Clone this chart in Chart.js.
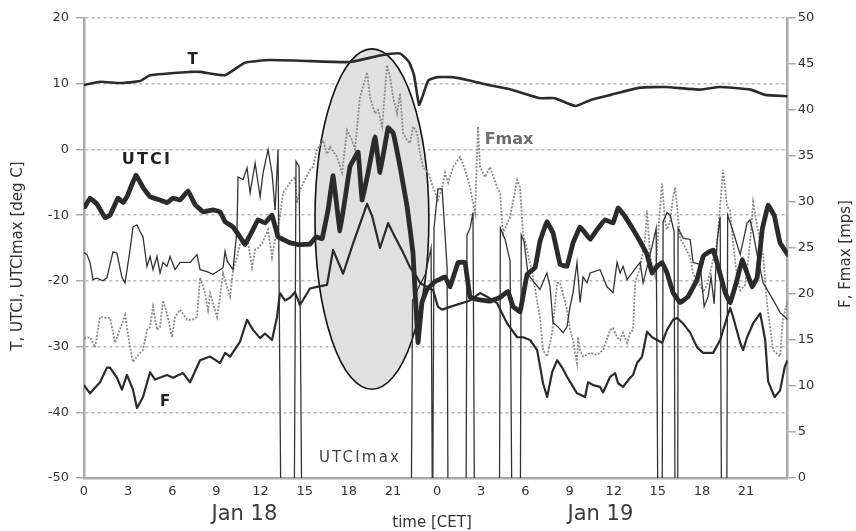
<!DOCTYPE html>
<html>
<head>
<meta charset="utf-8">
<script src="https://cdn.jsdelivr.net/npm/chart.js@4"></script>
<style>
html,body{margin:0;padding:0;background:#fff;}
canvas{display:block;}
</style>
</head>
<body>
<canvas id="c" width="856" height="531"></canvas>
<script>
// ---------- data (hours since Jan 18 00:00 CET) ----------
const xTicks = [0,3,6,9,12,15,18,21,24,27,30,33,36,39,42,45];
const leftTicks = [-50,-40,-30,-20,-10,0,10,20];
const rightTicks = [0,5,10,15,20,25,30,35,40,45,50];

const tHours = [0,1.09,2.45,3.81,4.49,7.21,7.89,9.59,10.94,12.64,14.68,18.08,20.12,21.48,22.09,22.43,22.77,23.0,23.4,24.0,25.0,26.2,27.5,28.9,31.0,32.0,33.4,34.4,35.8,37.8,39.5,41.9,43.2,45.3,46.3,47.83];
const tVals  = [9.8,10.3,10.1,10.4,11.3,11.8,11.8,11.3,13.2,13.6,13.5,13.3,14.3,14.6,13.3,11.3,6.8,8.0,10.5,11.0,11.0,10.5,9.8,9.2,7.8,7.8,6.6,7.5,8.3,9.4,9.5,9.1,9.5,9.1,8.3,8.1];

const utciHours = [0.07,0.41,0.88,1.43,1.77,2.31,2.65,2.92,3.53,4.01,4.49,5.17,5.64,6.05,6.53,7.07,7.55,8.09,8.77,9.25,9.59,10.13,10.60,10.94,11.42,11.83,12.30,12.78,13.19,14.00,14.68,15.36,15.77,16.18,16.59,16.93,17.40,18.08,18.63,18.90,19.31,19.78,20.12,20.67,21.01,21.48,21.96,22.36,22.70,22.97,23.31,23.86,24.54,24.88,25.43,25.90,26.24,26.92,27.60,28.28,28.82,29.16,29.64,30.12,30.66,30.99,31.46,31.88,32.36,32.83,33.24,33.72,34.06,34.40,34.87,35.42,35.96,36.30,36.71,37.25,37.80,38.27,38.61,38.95,39.29,39.63,40.04,40.52,41.06,41.67,42.08,42.42,42.76,43.10,43.58,43.92,44.39,44.74,45.07,45.41,45.75,46.10,46.50,46.91,47.31,47.83];
const utciVals  = [-8.7,-7.4,-8.3,-10.4,-10.0,-7.4,-8.1,-7.2,-3.9,-5.8,-7.2,-7.7,-8.1,-7.4,-7.7,-6.3,-8.4,-9.5,-9.2,-9.5,-11.0,-11.8,-13.3,-14.5,-12.5,-10.7,-11.2,-10.0,-13.3,-14.2,-14.5,-14.4,-13.3,-13.6,-9.2,-4.0,-12.4,-2.6,-0.4,-7.7,-3.5,1.9,-3.5,3.3,2.5,-2.6,-8.7,-15.7,-29.4,-23.3,-21.3,-20.1,-19.4,-20.9,-17.2,-17.2,-22.5,-22.9,-23.1,-22.5,-21.6,-23.9,-24.7,-19.0,-18.0,-14.0,-11.0,-12.7,-17.5,-17.8,-14.2,-11.8,-12.7,-13.7,-12.2,-10.7,-11.2,-8.9,-10.0,-11.9,-14.0,-16.0,-18.8,-17.8,-17.2,-18.8,-21.8,-23.3,-22.4,-19.8,-16.3,-15.7,-15.3,-17.8,-21.8,-23.3,-19.8,-16.8,-18.8,-20.9,-19.5,-12.2,-8.5,-10.0,-14.2,-16.0];

// UTCImax: -60 marks values off the bottom of the scale
const utcimaxHours = [0.00,0.20,0.41,0.61,0.88,1.29,1.56,1.97,2.24,2.58,2.79,3.13,3.33,3.60,3.81,4.01,4.28,4.49,4.69,4.96,5.17,5.37,5.64,5.85,6.19,6.53,7.21,7.68,7.89,8.36,8.77,9.25,9.45,9.59,9.73,10.13,10.40,10.47,10.81,11.08,11.29,11.63,11.97,12.17,12.51,12.78,12.99,13.19,13.40,14.28,14.41,14.62,14.82,22.23,22.33,22.74,23.20,23.59,23.69,23.79,24.06,24.34,24.54,24.68,24.75,25.96,26.03,26.24,26.44,26.55,28.23,28.30,28.62,28.96,29.10,29.65,29.72,29.91,30.18,30.52,30.99,31.46,31.68,31.88,32.22,32.56,32.83,33.04,33.24,33.51,33.72,33.92,34.19,34.40,35.08,35.55,35.96,36.23,36.44,36.64,36.91,37.59,37.80,38.00,38.48,38.89,39.02,39.29,39.36,39.63,39.84,40.11,40.18,40.35,40.38,40.72,41.20,41.40,41.88,42.15,42.42,42.62,42.83,43.03,43.24,43.34,43.68,43.75,44.05,44.60,45.07,45.27,45.48,45.75,46.16,46.84,47.31,47.83];
const utcimaxVals  = [-15.7,-16,-17.2,-19.8,-19.6,-20,-19.5,-15.6,-15.8,-19.5,-20.3,-15.3,-11.8,-11.5,-12.5,-13.3,-17.8,-16.3,-18.3,-16.3,-18.8,-17.2,-17.8,-16.3,-18.3,-17.2,-17.2,-16,-18.3,-18.6,-19,-18.3,-18,-15.5,-17,-18.3,-12.2,-4.2,-4.6,-2.8,-6.6,-2.1,-7.2,-3.6,0,-3.6,-9.2,0,-60,-60,-1.8,-2.6,-60,-60,-23,-21,-19,-15,-60,-12,-6,-6,-13,-18,-60,-60,-13,-12,-9.6,-60,-60,-12,-13.7,-17,-60,-60,-13,-14,-19,-20,-21.3,-18.8,-20.9,-26.4,-27,-27.9,-27,-23.9,-21.8,-17.2,-23.3,-19.4,-20.3,-18.8,-18.3,-20.9,-21.8,-17.2,-18.8,-17.8,-19.8,-17.8,-17.2,-20.3,-16,-12,-60,-60,-11,-9.6,-10,-12.5,-60,-60,-12,-13.5,-13.7,-17.2,-17.5,-23.9,-22.4,-19.4,-23.5,-14,-10.2,-60,-60,-10,-12,-16,-11.2,-10.7,-12.7,-16,-20.3,-22.9,-24.8,-25.9];

const fHours = [0.00,0.41,1.09,1.56,1.77,2.24,2.58,2.92,3.33,3.60,4.01,4.49,4.83,5.64,6.05,6.73,7.21,7.89,8.57,9.25,9.59,9.93,10.60,11.08,11.49,11.97,12.30,12.78,13.12,13.32,13.66,14.00,14.34,14.68,15.36,15.91,16.52,16.93,17.61,18.29,19.24,19.58,20.12,20.67,21.14,21.69,22.16,22.64,22.84,23.73,24.06,24.34,24.88,26.24,26.92,27.40,28.08,28.76,29.44,29.84,30.32,30.80,31.20,31.48,31.82,32.16,32.50,32.83,33.51,34.06,34.26,34.60,35.08,35.28,35.76,36.10,36.30,36.64,37.12,37.32,37.59,37.93,38.27,38.61,38.95,39.29,39.63,40.04,40.31,40.72,41.20,41.67,42.08,42.76,43.24,43.71,43.92,44.12,44.60,44.80,45.07,45.48,45.96,46.30,46.50,46.94,47.31,47.63,47.83];
const fVals  = [10.1,9.2,10.4,12.0,12.0,10.9,9.6,11.2,9.6,7.6,8.8,11.5,10.7,11.2,10.9,11.4,10.4,12.8,13.2,12.5,13.6,13.2,14.8,17.2,16.1,15.2,15.7,15.0,17.5,20.1,19.3,19.6,20.2,18.8,20.6,20.8,21.0,24.8,22.2,25.5,29.8,28.5,25.0,27.7,26.2,24.5,22.9,21.8,21.2,20.4,18.6,18.3,18.6,19.3,20.1,19.7,19.0,16.8,15.3,15.3,15.0,13.9,10.3,8.8,11.5,12.8,12.0,11.0,9.2,8.8,10.4,10.1,9.9,9.3,11.0,11.4,10.3,9.9,10.9,11.2,12.5,13.2,15.9,15.3,15.0,14.7,16.1,17.2,17.4,16.8,15.8,14.2,13.6,13.6,15.0,17.5,18.5,17.5,14.7,13.9,15.3,16.8,17.9,15.0,10.5,8.8,9.5,12.1,12.8];

const fmaxHours = [0.00,0.41,0.75,1.09,1.56,1.77,2.11,2.79,3.13,3.33,3.60,3.81,4.01,4.28,4.49,4.69,4.96,5.17,5.37,5.64,5.98,6.19,6.53,7.00,7.34,7.68,7.89,8.23,8.43,8.57,9.04,9.25,9.45,9.93,10.13,10.40,10.60,11.08,11.42,11.63,11.83,12.10,12.30,12.51,12.78,12.99,13.32,13.53,13.80,14.14,14.34,14.48,14.68,15.02,15.36,15.57,15.84,16.25,16.52,16.72,17.20,17.54,17.88,18.22,18.42,18.76,19.24,19.44,19.78,19.99,20.26,20.60,20.80,21.01,21.28,21.48,21.69,21.96,22.16,22.37,22.64,22.84,23.05,23.39,23.73,24.06,24.34,24.54,24.75,25.09,25.56,25.90,26.24,26.58,26.78,26.92,27.26,27.60,28.08,28.28,28.48,28.96,29.44,29.64,29.84,30.12,30.52,30.99,31.20,31.48,31.82,32.16,32.36,32.83,33.04,33.24,33.38,33.51,33.58,33.72,33.92,34.40,34.87,35.28,35.76,35.96,36.23,36.44,36.64,36.91,37.12,37.32,37.46,37.80,38.14,38.27,38.48,38.82,39.09,39.29,39.49,39.63,39.84,40.04,40.18,40.52,40.72,41.20,41.40,41.88,42.08,42.35,43.03,43.44,43.71,43.92,44.12,44.39,44.60,44.94,45.27,45.48,45.75,46.16,46.43,46.84,47.31,47.51,47.83];
const fmaxVals  = [15.2,15.3,14.2,17.5,17.4,17.4,14.7,17.7,14.2,12.6,13.2,13.6,13.9,16.1,16.4,18.6,16.1,16.4,19.3,17.9,15.3,17.5,18.3,17.2,17.2,17.5,21.8,20.1,18.3,20.1,17.5,19.7,22.3,19.7,22.6,24.0,25.5,26.2,22.9,24.8,25.0,25.5,26.2,27.0,24.0,25.9,28.4,31.0,31.6,32.4,32.7,29.9,31.3,32.4,33.5,33.8,35.7,36.7,35.2,36.0,34.9,33.2,37.8,36.7,35.7,41.4,44.1,41.4,39.6,40.0,38.2,44.9,43.6,41.4,39.6,41.8,37.5,36.7,36.4,38.2,37.5,35.3,33.8,33.2,31.6,30.2,31.6,33.2,32.1,33.8,34.9,33.5,31.6,28.8,38.2,33.8,32.7,33.8,31.6,31.0,26.6,28.4,32.4,31.6,26.6,24.8,21.8,17.5,13.9,13.2,15.8,21.2,21.2,18.3,16.1,15.0,13.6,12.5,15.3,13.9,13.2,13.6,13.4,13.9,16.1,16.3,15.3,15.0,15.8,14.7,15.8,16.1,21.2,22.9,26.0,29.1,24.0,22.0,28.0,32.0,28.0,27.0,28.0,30.5,31.6,26.0,25.5,24.0,22.2,21.0,20.2,21.0,25.5,33.5,29.5,29.1,25.5,21.8,20.4,21.0,25.5,30.0,27.4,24.2,18.8,13.9,13.2,17.4,19.2];

// date labels under the axis (hour of label centre)
const dateLabels = ['Jan 18','Jan 19'];
const dateLabelHours = [10.9, 35.1];

// highlighted storm period (ellipse, in data units)
const stormEllipse = {hour: 19.57, value: -10.6, halfHours: 3.87, halfValue: 25.9};

// ---------- styling ----------
const FONT = "'DejaVu Sans', 'Liberation Sans', sans-serif";
const pts = (h, v) => h.map((x, i) => ({x: x, y: v[i]}));

const ellipsePlugin = {
  id: 'ellipse',
  beforeDatasetsDraw(chart) {
    const {ctx, scales: {x, y}} = chart;
    const cx = x.getPixelForValue(stormEllipse.hour);
    const cy = y.getPixelForValue(stormEllipse.value);
    const rx = Math.abs(x.getPixelForValue(stormEllipse.hour + stormEllipse.halfHours) - cx);
    const ry = Math.abs(y.getPixelForValue(stormEllipse.value + stormEllipse.halfValue) - cy);
    ctx.save();
    ctx.beginPath();
    ctx.ellipse(cx, cy, rx, ry, 0, 0, Math.PI * 2);
    ctx.fillStyle = '#e0e0e0';
    ctx.fill();
    ctx.lineWidth = 1.6;
    ctx.strokeStyle = '#111';
    ctx.stroke();
    ctx.restore();
  }
};

function txt(ctx, s, x, y, font, color, spacing, align) {
  ctx.font = font;
  ctx.fillStyle = color;
  ctx.textAlign = align || 'center';
  ctx.textBaseline = 'middle';
  try { ctx.letterSpacing = (spacing || 0) + 'px'; } catch (e) {}
  ctx.fillText(s, x, y);
  try { ctx.letterSpacing = '0px'; } catch (e) {}
}

const textPlugin = {
  id: 'texts',
  afterDraw(chart) {
    const {ctx, chartArea, scales: {x}} = chart;
    ctx.save();
    ctx.save();
    ctx.translate(18.5, 256);
    ctx.rotate(-Math.PI / 2);
    txt(ctx, 'T, UTCI, UTCImax [deg C]', 0, 0, '15px ' + FONT, '#333');
    ctx.restore();
    ctx.save();
    ctx.translate(846.5, 254);
    ctx.rotate(-Math.PI / 2);
    txt(ctx, 'F, Fmax [mps]', 0, 0, '15px ' + FONT, '#333');
    ctx.restore();
    dateLabels.forEach((d, i) => {
      txt(ctx, d, x.getPixelForValue(dateLabelHours[i]), chartArea.bottom + 37, '21px ' + FONT, '#3a3a3a');
    });
    txt(ctx, 'time [CET]', 432, chartArea.bottom + 45, '15px ' + FONT, '#333');
    txt(ctx, 'T', 192.5, 60, 'bold 15px ' + FONT, '#222');
    txt(ctx, 'UTCI', 147, 160, 'bold 16px ' + FONT, '#222', 2.2);
    txt(ctx, 'Fmax', 509, 140, 'bold 16px ' + FONT, '#6e6e6e');
    txt(ctx, 'F', 165, 402, 'bold 15px ' + FONT, '#222');
    txt(ctx, 'UTCImax', 360, 458, '15px ' + FONT, '#444', 2.2);
    ctx.restore();
  }
};

new Chart(document.getElementById('c'), {
  type: 'line',
  data: {
    datasets: [
      {label: 'UTCI', data: pts(utciHours, utciVals), yAxisID: 'y', borderColor: '#2b2b2b', borderWidth: 4.8, tension: 0.05, borderJoinStyle: 'round', borderCapStyle: 'round', order: 1},
      {label: 'T', data: pts(tHours, tVals), yAxisID: 'y', borderColor: '#2b2b2b', borderWidth: 2.6, tension: 0.15, borderJoinStyle: 'round', order: 2},
      {label: 'F', data: pts(fHours, fVals), yAxisID: 'y2', borderColor: '#2b2b2b', borderWidth: 2.2, tension: 0, borderJoinStyle: 'round', order: 3},
      {label: 'UTCImax', data: pts(utcimaxHours, utcimaxVals), yAxisID: 'y', borderColor: '#333', borderWidth: 1.3, tension: 0, order: 4},
      {label: 'Fmax', data: pts(fmaxHours, fmaxVals), yAxisID: 'y2', borderColor: '#8a8a8a', borderWidth: 1.8, borderDash: [2, 1.5], tension: 0, order: 5}
    ]
  },
  options: {
    responsive: false,
    animation: false,
    events: [],
    layout: {padding: {top: 18, left: 0, right: 0, bottom: 0}},
    plugins: {legend: {display: false}, tooltip: {enabled: false}},
    elements: {point: {radius: 0}},
    scales: {
      x: {
        type: 'linear', min: 0, max: 47.83,
        afterBuildTicks: s => { s.ticks = xTicks.map(v => ({value: v})); },
        afterFit: s => { s.height = 53; },
        ticks: {callback: v => String(v % 24), font: {family: FONT, size: 13}, color: '#333', padding: 6, maxRotation: 0, autoSkip: false},
        grid: {display: true, drawOnChartArea: false, drawTicks: false},
        border: {color: '#aaa', width: 2.5}
      },
      y: {
        position: 'left', min: -50, max: 20,
        afterBuildTicks: s => { s.ticks = leftTicks.map(v => ({value: v})); },
        afterFit: s => { s.width = 84; },
        ticks: {font: {family: FONT, size: 13}, color: '#333', padding: 7},
        grid: {color: '#b8b8b8', lineWidth: 1.5, tickLength: 8, tickColor: '#aaa', tickBorderDash: [], tickWidth: 1.5},
        border: {color: '#aaa', width: 2.5, dash: [3, 3]}
      },
      y2: {
        position: 'right', min: 0, max: 50,
        afterBuildTicks: s => { s.ticks = rightTicks.map(v => ({value: v})); },
        afterFit: s => { s.width = 68.3; },
        ticks: {font: {family: FONT, size: 13}, color: '#333', padding: 2},
        grid: {drawOnChartArea: false, tickLength: 8, tickColor: '#aaa', lineWidth: 1.5},
        border: {color: '#aaa', width: 2.5}
      }
    }
  },
  plugins: [ellipsePlugin, textPlugin]
});
</script>
</body>
</html>
